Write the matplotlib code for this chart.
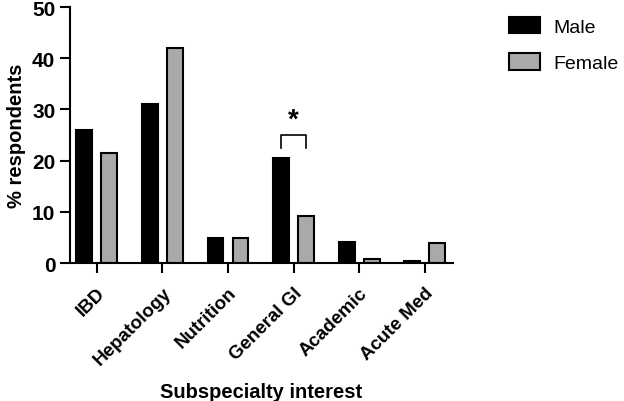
import matplotlib
matplotlib.use('Agg')
import matplotlib.pyplot as plt
import numpy as np

plt.rcParams['font.family'] = ['Liberation Sans', 'DejaVu Sans']

categories = ['IBD', 'Hepatology', 'Nutrition', 'General GI', 'Academic', 'Acute Med']
male = [26.0, 31.0, 5.0, 20.5, 4.2, 0.5]
female = [21.5, 42.0, 5.0, 9.2, 0.8, 3.9]
yticks = [0, 10, 20, 30, 40, 50]

fig = plt.figure(figsize=(6.24, 4.02), dpi=100)
ax = fig.add_axes([0.112, 0.343, 0.614, 0.637])

x = np.arange(len(categories))
w = 0.24
off = 0.19
ax.bar(x - off, male, w, color='black', edgecolor='black', linewidth=1.5, label='Male')
ax.bar(x + off, female, w, color='#a9a9a9', edgecolor='black', linewidth=1.5, label='Female')

# significance bracket over General GI
i = categories.index('General GI')
y0, y1 = 22.5, 25.0
ax.plot([i - off, i - off, i + off, i + off], [y0, y1, y1, y0], color='black', lw=1.2, clip_on=False)
ax.text(i, 28.0, '*', ha='center', va='center', fontsize=20, fontweight='bold')

ax.set_xlim(-0.41, 5.43)
ax.set_ylim(0, 50)
ax.set_yticks(yticks)
ax.set_xticks(x)
ax.set_xticklabels(categories, rotation=45, ha='right', rotation_mode='anchor',
                   fontsize=13.5, fontweight='bold')
for lab in ax.get_yticklabels():
    lab.set_fontweight('bold')
    lab.set_fontsize(15)

for s in ['top', 'right']:
    ax.spines[s].set_visible(False)
for s in ['left', 'bottom']:
    ax.spines[s].set_linewidth(1.5)
ax.tick_params(axis='both', width=1.5, length=7)
ax.tick_params(axis='x', pad=8)

ax.set_ylabel('% respondents', fontsize=14.5, fontweight='bold', labelpad=4)
ax.set_xlabel('Subspecialty interest', fontsize=14.5, fontweight='bold', labelpad=10)

ax.legend(loc='upper left', bbox_to_anchor=(0.815, 0.955), bbox_transform=fig.transFigure,
          frameon=False, fontsize=14, borderpad=0, borderaxespad=0,
          handlelength=1.6, handleheight=0.9, labelspacing=0.9, handletextpad=0.72)

fig.savefig('out.png', dpi=100)
